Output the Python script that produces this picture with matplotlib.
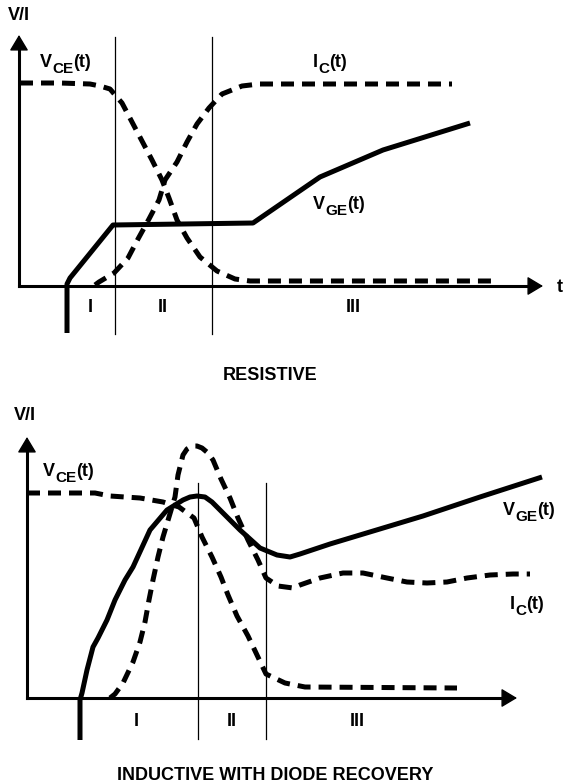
import matplotlib
matplotlib.use("Agg")
import matplotlib.pyplot as plt

FONT = "Liberation Sans"
FS = 13
SUB_FS = 11

# ---------------- RESISTIVE panel (t, value) ----------------
top_vge_t = [48, 48, 51, 94, 234, 301, 364, 451]
top_vge_v = [-47, 2, 8, 61, 63, 109, 136, 163]

top_vce_t = [1, 41, 71, 81, 91, 103, 113, 123, 133, 143, 150, 158, 168, 181, 198, 216, 231, 478]
top_vce_v = [203, 203, 202, 200, 197, 183, 164, 145, 126, 106, 88, 66, 48, 29, 15, 7, 5, 5]

top_ic_t = [76, 80, 95, 109, 119, 130, 140, 146, 158, 168, 178, 190, 203, 223, 240, 433]
top_ic_v = [1, 4, 13, 28, 47, 67, 86, 106, 124, 144, 162, 178, 192, 200, 202, 202]

top_bounds = [96, 193]
top_regions = ["I", "II", "III"]
top_region_t = [71, 144, 334]

# ---------------- INDUCTIVE panel (t, value) ----------------
bot_vge_t = [53, 53, 55, 60, 66, 71, 80, 88, 98, 106, 123, 140, 156, 163, 170, 178, 185, 193, 213, 233, 250,
             263, 273, 303, 396, 453, 515]
bot_vge_v = [-42, -2, 5, 28, 51, 60, 78, 98, 118, 131, 168, 188, 198, 201, 202, 201, 196, 188, 168, 150, 143,
             141, 144, 154, 182, 201, 221]

bot_vce_t = [0, 68, 83, 113, 136, 152, 167, 175, 185, 194, 201, 210, 221, 230, 239, 258, 278, 430]
bot_vce_v = [205, 205, 202, 200, 196, 191, 180, 161, 141, 121, 103, 82, 62, 43, 24, 15, 11, 10]

bot_ic_t = [83, 88, 96, 106, 113, 118, 122, 126, 131, 136, 142, 148, 151, 156, 160, 165, 170, 175, 181, 186,
            194, 203, 211, 221, 231, 239, 251, 266, 273, 293, 316, 336, 360, 380, 400, 420, 440, 463, 486, 503]
bot_ic_v = [0, 4, 15, 36, 56, 76, 98, 118, 141, 161, 181, 201, 223, 243, 249, 252, 252, 250, 245, 238,
            219, 200, 180, 158, 138, 120, 112, 110, 113, 120, 125, 125, 120, 116, 115, 116, 120, 123, 124, 124]

bot_bounds = [171, 239]
bot_regions = ["I", "II", "III"]
bot_region_t = [109, 205, 330]

W, H, DPI = 566, 784, 100
fig = plt.figure(figsize=(W / DPI, H / DPI), dpi=DPI)

DASH = (0, (2.6, 1.6))
LW = 3.6


def sublabel(ax, t, v, main, sub, rest):
    base = ax.text(t, v, main, fontsize=FS, fontweight="bold", family=FONT, va="baseline", ha="left")
    s = ax.annotate(sub, xy=(1, 0), xycoords=base, xytext=(0, -3.6), textcoords="offset points",
                    fontsize=SUB_FS, fontweight="bold", family=FONT, va="bottom", ha="left")
    ax.annotate(rest, xy=(1, 0), xycoords=s, xytext=(0, 3.6), textcoords="offset points",
                fontsize=FS, fontweight="bold", family=FONT, va="bottom", ha="left")


def txt(ax, t, v, s, **kw):
    ax.text(t, v, s, fontsize=FS, fontweight="bold", family=FONT, ha="center", va="center", **kw)


def panel(ax, x_tip, y_tip, bounds, line_top, line_bot, regions, region_t, region_v):
    ax.set_axis_off()
    ax.plot([0, 0], [0, y_tip - 8], color="k", lw=2.2, solid_capstyle="projecting")
    ax.plot([0, x_tip - 8], [0, 0], color="k", lw=2.2, solid_capstyle="projecting")
    ax.annotate("", xy=(0, y_tip), xytext=(0, y_tip - 12),
                arrowprops=dict(arrowstyle="-|>,head_length=0.75,head_width=0.45", color="k", lw=1,
                                shrinkA=0, shrinkB=0, mutation_scale=13))
    ax.annotate("", xy=(x_tip, 0), xytext=(x_tip - 12, 0),
                arrowprops=dict(arrowstyle="-|>,head_length=0.75,head_width=0.45", color="k", lw=1,
                                shrinkA=0, shrinkB=0, mutation_scale=13))
    for b in bounds:
        ax.plot([b, b], [line_bot, line_top], color="k", lw=0.9)
    for r, rt in zip(regions, region_t):
        txt(ax, rt, region_v, r)


# ---- top panel ----
ax1 = fig.add_axes([0, 392 / H, 1, 392 / H])
ax1.set_xlim(-19, W - 19)
ax1.set_ylim(286 - 392, 286)
panel(ax1, 524, 251, top_bounds, 249, -48, top_regions, top_region_t, -22)
ax1.plot(top_vge_t, top_vge_v, color="k", lw=LW, solid_joinstyle="round", solid_capstyle="butt")
ax1.plot(top_vce_t, top_vce_v, color="k", lw=LW, linestyle=DASH, dash_capstyle="butt")
ax1.plot(top_ic_t, top_ic_v, color="k", lw=LW, linestyle=DASH, dash_capstyle="butt")
txt(ax1, 0, 271, "V/I")
txt(ax1, 541, -2, "t")
txt(ax1, 251, -89, "RESISTIVE")
sublabel(ax1, 21, 219, "V", "CE", "(t)")
sublabel(ax1, 294, 219, "I", "C", "(t)")
sublabel(ax1, 294, 77, "V", "GE", "(t)")

# ---- bottom panel ----
ax2 = fig.add_axes([0, 0, 1, 392 / H])
ax2.set_xlim(-27, W - 27)
ax2.set_ylim(698 - 784, 698 - 392)
panel(ax2, 490, 261, bot_bounds, 215, -41, bot_regions, bot_region_t, -24)
ax2.plot(bot_vge_t, bot_vge_v, color="k", lw=LW, solid_joinstyle="round", solid_capstyle="butt")
ax2.plot(bot_vce_t, bot_vce_v, color="k", lw=LW, linestyle=DASH, dash_capstyle="butt")
ax2.plot(bot_ic_t, bot_ic_v, color="k", lw=LW, linestyle=DASH, dash_capstyle="butt")
txt(ax2, -2, 283, "V/I")
txt(ax2, 248, -77, "INDUCTIVE WITH DIODE RECOVERY")
sublabel(ax2, 16, 222, "V", "CE", "(t)")
sublabel(ax2, 476, 183, "V", "GE", "(t)")
sublabel(ax2, 483, 89, "I", "C", "(t)")

fig.savefig("out.png", dpi=DPI)
